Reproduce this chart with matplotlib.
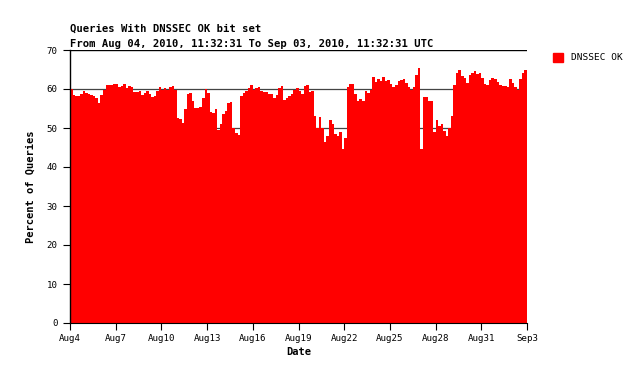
import matplotlib
matplotlib.use("Agg")
import matplotlib.pyplot as plt
import numpy as np

# 4-hourly values (percent of queries with DO bit), Aug 04 11:32 -> Sep 03 11:32
values = [
    60.0, 58.5, 58.1, 58.3, 58.8, 59.4, 59.0, 58.6, 58.4, 58.2, 57.8, 56.4,
    58.5, 59.8, 61.1, 61.0, 61.0, 61.2, 61.3, 60.6, 60.8, 61.3, 60.3, 60.7,
    60.5, 59.2, 59.3, 59.4, 58.5, 59.0, 59.4, 58.7, 57.9, 58.3, 59.5, 60.5,
    59.8, 60.2, 59.8, 60.5, 60.7, 59.8, 52.6, 52.4, 51.3, 55.0, 58.6, 58.9,
    57.0, 55.1, 55.1, 55.3, 57.7, 60.0, 59.0, 54.1, 53.8, 55.0, 49.6, 50.9,
    53.6, 54.3, 56.4, 56.7, 50.0, 48.7, 48.3, 58.1, 59.0, 59.6, 60.3, 60.9,
    59.8, 60.3, 60.5, 59.4, 59.2, 59.2, 58.7, 58.7, 57.7, 58.5, 60.3, 60.7,
    57.3, 57.7, 58.1, 58.7, 59.8, 60.3, 59.4, 58.8, 60.7, 60.9, 59.2, 59.4,
    53.0, 49.9, 52.7, 50.0, 46.5, 48.0, 52.0, 51.0, 48.5, 48.0, 49.0, 44.5,
    47.5, 60.5, 61.2, 61.4, 58.8, 57.0, 57.4, 56.8, 59.4, 59.1, 59.8, 63.0,
    61.8, 62.5, 62.0, 63.0, 62.0, 62.3, 61.2, 60.5, 61.0, 62.0, 62.4, 62.6,
    61.5, 60.4, 59.8, 60.5, 63.5, 65.4, 44.5, 57.9, 57.9, 57.0, 57.0, 49.0,
    52.1, 50.5, 51.0, 49.3, 48.0, 50.0, 53.0, 61.0, 64.2, 64.8, 63.3, 62.8,
    61.5, 63.5, 64.2, 64.5, 63.9, 64.0, 62.8, 61.2, 61.0, 62.4, 62.8, 62.5,
    61.9, 61.0, 60.8, 60.8, 60.6, 62.5, 61.5, 60.4, 59.8, 62.5, 64.2, 65.0,
]
step_days = 1 / 6
tick_days = [0, 3, 6, 9, 12, 15, 18, 21, 24, 27, 30]
tick_labels = ["Aug4", "Aug7", "Aug10", "Aug13", "Aug16", "Aug19",
               "Aug22", "Aug25", "Aug28", "Aug31", "Sep3"]
y_ticks = [0, 10, 20, 30, 40, 50, 60, 70]
title1 = "Queries With DNSSEC OK bit set"
title2 = "From Aug 04, 2010, 11:32:31 To Sep 03, 2010, 11:32:31 UTC"
series_name = "DNSSEC OK"

W, H = 640, 379
fig = plt.figure(figsize=(W / 100, H / 100), dpi=100)
ax = fig.add_axes([70 / W, (H - 323) / H, (527 - 70) / W, (323 - 50) / H])

x = np.arange(len(values)) * step_days
ax.bar(x, values, width=step_days, align="edge", color="#ff0000",
       linewidth=0, zorder=2)

ax.set_xlim(0, 30)
ax.set_ylim(0, 70)
ax.set_yticks(y_ticks)
ax.set_xticks(tick_days)
ax.set_xticklabels(tick_labels)

for yv in y_ticks[1:-1]:
    ax.axhline(yv, color="#444444", lw=0.9, zorder=1)
ax.axhline(70, color="black", lw=1.0, zorder=3)

mono = "DejaVu Sans Mono"
ax.tick_params(axis="both", direction="out", length=5, width=0.8,
               labelsize=6.6, colors="black")
ax.tick_params(axis="x", pad=3)
ax.tick_params(axis="y", pad=4)
for lab in ax.get_xticklabels() + ax.get_yticklabels():
    lab.set_family(mono)

for s in ["top", "right"]:
    ax.spines[s].set_visible(False)
ax.spines["left"].set_linewidth(1.0)
ax.spines["bottom"].set_linewidth(0.8)
ax.spines["left"].set_zorder(4)

ax.set_xlabel("Date", family=mono, fontweight="bold", fontsize=7.5, labelpad=3)
ax.set_ylabel("Percent of Queries", family=mono, fontweight="bold",
              fontsize=7.5, labelpad=8)

fig.text(70 / W, 1 - 29 / H, title1, family=mono, fontweight="bold",
         fontsize=7.6, va="center", ha="left")
fig.text(70 / W, 1 - 44 / H, title2, family=mono, fontweight="bold",
         fontsize=7.6, va="center", ha="left")

# legend
fig.patches.append(plt.Rectangle((553 / W, 1 - 62 / H), 10 / W, 9 / H,
                                 transform=fig.transFigure, color="#ff0000"))
fig.text(571 / W, 1 - 58 / H, series_name, family=mono, fontsize=6.8,
         va="center", ha="left")

fig.savefig("out.png", dpi=100)
